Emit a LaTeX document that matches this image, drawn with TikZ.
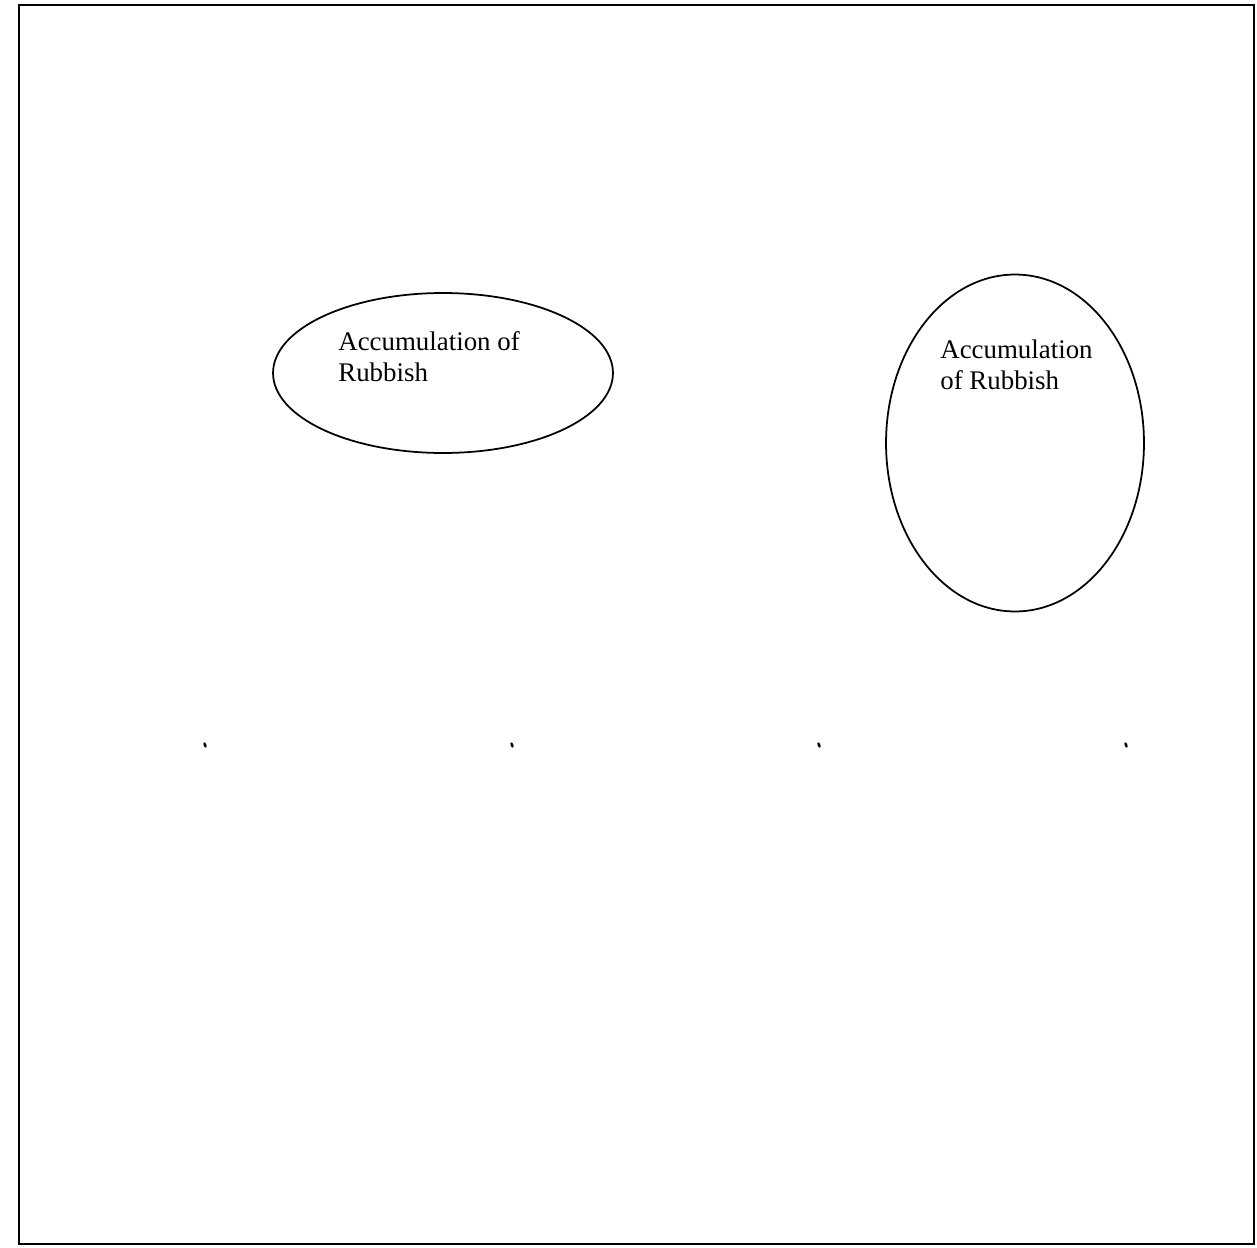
\documentclass[tikz,border=0pt]{standalone}
\usepackage{fontspec}
\setmainfont{Liberation Serif}
\usetikzlibrary{shapes.geometric,positioning}

\begin{document}
\begin{tikzpicture}[x=0.02cm,y=-0.02cm,
  font=\fontsize{15.3}{17.4}\selectfont,
  pile/.style={ellipse,draw,line width=1pt,inner sep=0pt},
  pilelabel/.style={anchor=base west,align=left,inner sep=0pt},
  speck/.style={ellipse,fill,inner sep=0pt,minimum width=1.6pt,minimum height=3.2pt,rotate=20}
]
\useasboundingbox (0,0) rectangle (1257,1247);
\draw[line width=1.2pt] (19,5) rectangle (1254,1244);
% left pile
\node[pile,minimum width=6.8cm,minimum height=3.2cm] (pileA) at (443,373) {};
\node[pilelabel] (txtA) at (338,381) {Accumulation of\\Rubbish};
% right pile
\node[pile,minimum width=5.16cm,minimum height=6.74cm] (pileB) at (1015,443) {};
\node[pilelabel] (txtB) at (940,389) {Accumulation\\of Rubbish};
% marks
\foreach \xx/\nm in {205/m1,512/m2,819/m3,1126/m4}
  \node[speck] (\nm) at (\xx,745) {};
\end{tikzpicture}
\end{document}
